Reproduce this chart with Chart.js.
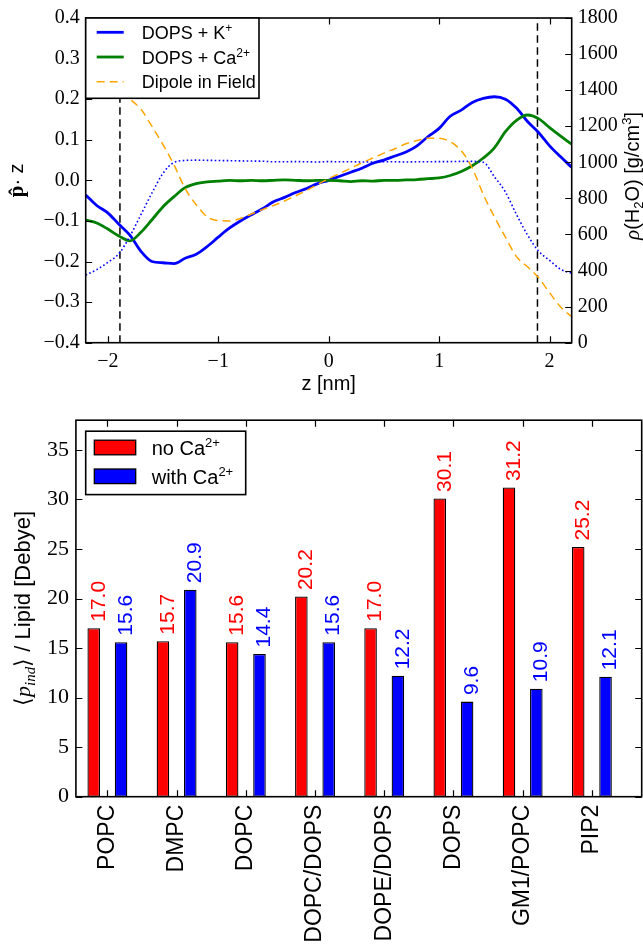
<!DOCTYPE html>
<html>
<head>
<meta charset="utf-8">
<script src="https://cdn.jsdelivr.net/npm/chart.js@4.4.1/dist/chart.umd.min.js"></script>
<style>
  body { margin: 0; background: #fff; width: 643px; height: 946px; overflow: hidden; position: relative; }
  canvas { position: absolute; left: 0; }
  #profile { top: 0; }
  #dipoles { top: 400px; }
</style>
</head>
<body>
<canvas id="profile" width="643" height="400"></canvas>
<canvas id="dipoles" width="643" height="546"></canvas>
<script>
// ---- top panel: orientation profiles across the membrane ----
const zValues = [-2.2, -2.1, -2.0, -1.9, -1.8, -1.7, -1.6, -1.5, -1.4, -1.3, -1.2, -1.1, -1.0,
  -0.9, -0.8, -0.7, -0.6, -0.5, -0.4, -0.3, -0.2, -0.1, 0.0, 0.1, 0.2, 0.3, 0.4, 0.5, 0.6,
  0.7, 0.8, 0.9, 1.0, 1.1, 1.2, 1.3, 1.4, 1.5, 1.6, 1.7, 1.8, 1.9, 2.0, 2.1, 2.2];
const dopsK = [-0.036, -0.062, -0.08, -0.108, -0.135, -0.175, -0.2, -0.203, -0.205, -0.192, -0.182, -0.163, -0.14,
  -0.118, -0.1, -0.085, -0.07, -0.053, -0.042, -0.03, -0.02, -0.008, 0.0, 0.01, 0.02, 0.03, 0.042, 0.05, 0.06,
  0.07, 0.085, 0.108, 0.128, 0.158, 0.173, 0.192, 0.202, 0.206, 0.2, 0.178, 0.145, 0.118, 0.085, 0.058, 0.032];
const dopsCa = [-0.098, -0.105, -0.12, -0.137, -0.149, -0.128, -0.097, -0.065, -0.04, -0.018, -0.008, -0.004, -0.002,
  0.0, -0.001, 0.0, -0.001, 0.0, 0.001, 0.0, -0.001, 0.0, 0.0, -0.001, -0.003, -0.001, -0.002, 0.0, 0.0,
  0.001, 0.002, 0.004, 0.006, 0.012, 0.022, 0.036, 0.055, 0.08, 0.12, 0.148, 0.161, 0.152, 0.13, 0.109, 0.089];
const dipoleField = [0.2, 0.22, 0.225, 0.22, 0.2, 0.175, 0.133, 0.088, 0.038, -0.02, -0.06, -0.09, -0.099,
  -0.1, -0.094, -0.083, -0.072, -0.062, -0.051, -0.038, -0.025, -0.01, 0.004, 0.017, 0.03, 0.043, 0.055, 0.067, 0.078,
  0.09, 0.098, 0.104, 0.104, 0.095, 0.073, 0.03, -0.035, -0.09, -0.14, -0.188, -0.213, -0.24, -0.277, -0.312, -0.336];
const waterDensity = [375, 405, 445, 493, 590, 710, 830, 939, 1000, 1010, 1012, 1011, 1010,
  1009, 1008, 1007, 1006, 1003, 1003, 1004, 1003, 1002, 1004, 1003, 1003, 1002, 1002, 1003, 1003,
  1002, 1003, 1003, 1004, 1004, 1005, 1005, 1000, 920, 835, 711, 597, 508, 456, 407, 385];
const membraneEdges = [-1.89, 1.89];
const zTicks = [-2, -1, 0, 1, 2];
const pTicks = [-0.4, -0.3, -0.2, -0.1, 0.0, 0.1, 0.2, 0.3, 0.4];
const rhoTicks = [0, 200, 400, 600, 800, 1000, 1200, 1400, 1600, 1800];

// ---- bottom panel: induced dipole per lipid ----
const lipids = ['POPC', 'DMPC', 'DOPC', 'DOPC/DOPS', 'DOPE/DOPS', 'DOPS', 'GM1/POPC', 'PIP2'];
const noCa = [17.0, 15.7, 15.6, 20.2, 17.0, 30.1, 31.2, 25.2];
const withCa = [15.6, 20.9, 14.4, 15.6, 12.2, 9.6, 10.9, 12.1];
const debyeTicks = [0, 5, 10, 15, 20, 25, 30, 35];

const SANS = '"Liberation Sans", Arial, sans-serif';
const SERIF = '"Liberation Serif", "Times New Roman", serif';
const TICK_LEN = 6.5;

function minus(s) { return s.replace('-', '\u2212'); }

// draw a run of text pieces [text, font, baselineShift]
function richText(ctx, parts, x, y, rotate, align, color) {
  ctx.save();
  ctx.translate(x, y);
  if (rotate) ctx.rotate(-Math.PI / 2);
  ctx.textBaseline = 'alphabetic';
  ctx.textAlign = 'left';
  ctx.fillStyle = color || '#000';
  let w = 0;
  parts.forEach(p => { ctx.font = p[1]; w += ctx.measureText(p[0]).width; });
  let cx = align === 'center' ? -w / 2 : 0;
  parts.forEach(p => {
    ctx.font = p[1];
    ctx.fillText(p[0], cx, p[2] || 0);
    cx += ctx.measureText(p[0]).width;
  });
  ctx.restore();
}

// frame plus inward ticks on the requested sides
function drawFrame(chart, sides) {
  const { ctx, chartArea: a } = chart;
  ctx.save();
  ctx.strokeStyle = '#000';
  ctx.lineWidth = 1.2;
  ctx.beginPath();
  Object.keys(sides).forEach(id => {
    const s = chart.scales[id];
    s.ticks.forEach(t => {
      const p = Math.round(s.getPixelForValue(t.value)) + 0.5;
      sides[id].forEach(side => {
        if (side === 'bottom') { ctx.moveTo(p, a.bottom); ctx.lineTo(p, a.bottom - TICK_LEN); }
        if (side === 'top') { ctx.moveTo(p, a.top); ctx.lineTo(p, a.top + TICK_LEN); }
        if (side === 'left') { ctx.moveTo(a.left, p); ctx.lineTo(a.left + TICK_LEN, p); }
        if (side === 'right') { ctx.moveTo(a.right, p); ctx.lineTo(a.right - TICK_LEN, p); }
      });
    });
  });
  ctx.stroke();
  ctx.lineWidth = 1.6;
  ctx.strokeRect(a.left, a.top, a.right - a.left, a.bottom - a.top);
  ctx.restore();
}

const profileDecor = {
  id: 'profileDecor',
  afterDraw(chart) {
    const { ctx, chartArea: a } = chart;
    drawFrame(chart, { x: ['bottom', 'top'], y: ['left'], y2: ['right'] });

    // legend
    ctx.save();
    ctx.fillStyle = '#fff';
    ctx.fillRect(a.left, a.top, 173.3, 80.3);
    ctx.strokeStyle = '#000';
    ctx.lineWidth = 1.6;
    ctx.strokeRect(a.left, a.top, 173.3, 80.3);
    const rows = [
      { color: '#0000ff', width: 2.8, dash: [], parts: [['DOPS + K', '18px ' + SANS], ['+', '12px ' + SANS, -7]] },
      { color: '#008000', width: 2.8, dash: [], parts: [['DOPS + Ca', '18px ' + SANS], ['2+', '12px ' + SANS, -7]] },
      { color: '#ffa500', width: 1.5, dash: [8, 5], parts: [['Dipole in Field', '18px ' + SANS]] }
    ];
    rows.forEach((r, i) => {
      const y = a.top + 14.3 + i * 24.7;
      ctx.strokeStyle = r.color;
      ctx.lineWidth = r.width;
      ctx.setLineDash(r.dash);
      ctx.beginPath();
      ctx.moveTo(a.left + 11, y);
      ctx.lineTo(a.left + 38, y);
      ctx.stroke();
      richText(ctx, r.parts, a.left + 56, y + 6.5, false, 'left');
    });
    ctx.restore();

    // axis titles
    richText(ctx, [['z [nm]', '20px ' + SANS]], (a.left + a.right) / 2, 390, false, 'center');
    richText(ctx, [['p\u0302', 'bold 21px ' + SERIF], ['\u00b7 z', '20px ' + SANS]], 23, (a.top + a.bottom) / 2, true, 'center');
    richText(ctx, [
      ['\u03c1', 'italic 21px ' + SERIF], ['(H', '20px ' + SANS], ['2', '13px ' + SANS, 4],
      ['O) [g/cm', '20px ' + SANS], ['3', '13px ' + SANS, -8], [']', '20px ' + SANS]
    ], 639, 176, true, 'center');
  }
};

const zData = arr => zValues.map((z, i) => ({ x: z, y: arr[i] }));
const edgeSets = membraneEdges.map(e => ({
  data: [{ x: e, y: pTicks[0] }, { x: e, y: pTicks[pTicks.length - 1] }],
  borderColor: '#000', borderWidth: 1.5, borderDash: [7.5, 4.5], pointRadius: 0, yAxisID: 'y', order: 5
}));

const serifTicks = { family: 'Liberation Serif', size: 20 };

new Chart(document.getElementById('profile').getContext('2d'), {
  type: 'line',
  data: {
    datasets: [
      { label: 'DOPS + K+', data: zData(dopsK), borderColor: '#0000ff', borderWidth: 2.8,
        pointRadius: 0, cubicInterpolationMode: 'monotone', yAxisID: 'y', order: 4 },
      { label: 'DOPS + Ca2+', data: zData(dopsCa), borderColor: '#008000', borderWidth: 2.8,
        pointRadius: 0, cubicInterpolationMode: 'monotone', yAxisID: 'y', order: 3 },
      { label: 'Dipole in Field', data: zData(dipoleField), borderColor: '#ffa500', borderWidth: 1.5,
        borderDash: [8, 5], pointRadius: 0, cubicInterpolationMode: 'monotone', yAxisID: 'y', order: 2 },
      { label: 'water density', data: zData(waterDensity), borderColor: '#0000ff', borderWidth: 1.6,
        borderDash: [1.6, 2.4], pointRadius: 0, cubicInterpolationMode: 'monotone', yAxisID: 'y2', order: 1 },
      ...edgeSets
    ]
  },
  options: {
    responsive: false,
    animation: false,
    devicePixelRatio: 1,
    layout: { padding: { top: 18, left: 0, right: 0, bottom: 0 } },
    scales: {
      x: {
        type: 'linear', min: -2.2, max: 2.2,
        afterBuildTicks: s => { s.ticks = zTicks.map(v => ({ value: v })); },
        afterFit: s => { s.height = 57.3; },
        grid: { display: false, drawTicks: false }, border: { display: false },
        ticks: { color: '#000', padding: 7, font: serifTicks, callback: v => minus(String(v)) }
      },
      y: {
        position: 'left', min: -0.4, max: 0.4,
        afterBuildTicks: s => { s.ticks = pTicks.map(v => ({ value: v })); },
        afterFit: s => { s.width = 85.7; },
        grid: { display: false, drawTicks: false }, border: { display: false },
        ticks: { color: '#000', padding: 6, font: serifTicks,
          callback: v => Math.abs(v) < 1e-9 ? '0.0' : minus(v.toFixed(1)) }
      },
      y2: {
        position: 'right', min: 0, max: 1800,
        afterBuildTicks: s => { s.ticks = rhoTicks.map(v => ({ value: v })); },
        afterFit: s => { s.width = 71.3; },
        grid: { display: false, drawTicks: false }, border: { display: false },
        ticks: { color: '#000', padding: 6, font: serifTicks, callback: v => String(v) }
      }
    },
    plugins: { legend: { display: false }, tooltip: { enabled: false } }
  },
  plugins: [profileDecor]
});

// ---- bottom chart ----
const barDecor = {
  id: 'barDecor',
  afterDatasetsDraw(chart) {
    const ctx = chart.ctx;
    ctx.save();
    ctx.font = '21px ' + SANS;
    ctx.textBaseline = 'middle';
    ctx.textAlign = 'left';
    chart.data.datasets.forEach((ds, di) => {
      chart.getDatasetMeta(di).data.forEach((bar, i) => {
        ctx.save();
        ctx.translate(bar.x + 5, bar.y - 6.5);
        ctx.rotate(-Math.PI / 2);
        ctx.fillStyle = ds.textColor;
        ctx.fillText(ds.data[i].y.toFixed(1), 0, 0);
        ctx.restore();
      });
    });
    ctx.restore();
  },
  afterDraw(chart) {
    const { ctx, chartArea: a } = chart;
    drawFrame(chart, { x: ['bottom', 'top'], y: ['left', 'right'] });

    ctx.save();
    const bx = a.left + 9.8, by = a.top + 11;
    ctx.fillStyle = '#fff';
    ctx.fillRect(bx, by, 160, 63.4);
    ctx.strokeStyle = '#000';
    ctx.lineWidth = 1.6;
    ctx.strokeRect(bx, by, 160, 63.4);
    chart.data.datasets.forEach((ds, i) => {
      const y = by + 9 + i * 28.8;
      ctx.fillStyle = ds.backgroundColor;
      ctx.fillRect(bx + 8.6, y, 41.4, 14.6);
      ctx.lineWidth = 1.3;
      ctx.strokeRect(bx + 8.6, y, 41.4, 14.6);
      richText(ctx, [[ds.label, '20px ' + SANS], ['2+', '13px ' + SANS, -8]], bx + 66, y + 14.5, false, 'left');
    });
    ctx.restore();

    richText(ctx, [
      ['\u27e8', '22px ' + SERIF], ['p', 'italic 22px ' + SERIF], ['ind', 'italic 15px ' + SERIF, 5],
      ['\u27e9', '22px ' + SERIF], [' / Lipid [Debye]', '22px ' + SANS]
    ], 30, (a.top + a.bottom) / 2, true, 'center');
  }
};

const barData = arr => lipids.map((n, i) => ({ x: i, y: arr[i] }));

new Chart(document.getElementById('dipoles').getContext('2d'), {
  type: 'bar',
  data: {
    datasets: [
      { label: 'no Ca', data: barData(noCa), backgroundColor: '#ff0000', textColor: '#ff0000',
        borderColor: '#000', borderWidth: 1.3, borderSkipped: false },
      { label: 'with Ca', data: barData(withCa), backgroundColor: '#0000ff', textColor: '#0000ff',
        borderColor: '#000', borderWidth: 1.3, borderSkipped: false }
    ]
  },
  options: {
    responsive: false,
    animation: false,
    devicePixelRatio: 1,
    categoryPercentage: 0.79,
    barPercentage: 0.46,
    layout: { padding: { top: 17.3, left: 0, right: 1.3, bottom: 0 } },
    scales: {
      x: {
        type: 'linear', min: -0.455, max: 7.72, offset: false,
        afterBuildTicks: s => { s.ticks = lipids.map((n, i) => ({ value: i })); },
        afterFit: s => { s.height = 149.3; },
        grid: { display: false, drawTicks: false, offset: false }, border: { display: false },
        ticks: { color: '#000', padding: 8, autoSkip: false, minRotation: 90, maxRotation: 90,
          font: { family: 'Liberation Sans', size: 23 }, callback: v => lipids[v] }
      },
      y: {
        min: 0, max: 38,
        afterBuildTicks: s => { s.ticks = debyeTicks.map(v => ({ value: v })); },
        afterFit: s => { s.width = 75.9; },
        grid: { display: false, drawTicks: false }, border: { display: false },
        ticks: { color: '#000', padding: 7, font: { family: 'Liberation Serif', size: 22 } }
      }
    },
    plugins: { legend: { display: false }, tooltip: { enabled: false } }
  },
  plugins: [barDecor]
});
</script>
</body>
</html>
